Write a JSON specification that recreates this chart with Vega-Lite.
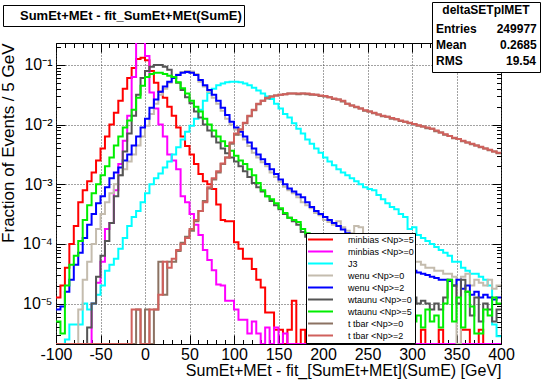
{
"$schema": "https://vega.github.io/schema/vega-lite/v6.json",
"width": 445, "height": 301,
"autosize": {"type": "none"},
"padding": {"left": 56, "top": 43, "right": 43, "bottom": 36},
"background": "#ffffff",
"config": {
  "view": {"stroke": "#000000", "strokeWidth": 1},
  "axis": {"labelFont": "Liberation Sans", "titleFont": "Liberation Sans", "labelColor": "#000000", "titleColor": "#000000", "tickColor": "#000000", "domain": false, "tickWidth": 1},
  "legend": {"labelFont": "Liberation Sans", "titleFont": "Liberation Sans", "labelColor": "#000000", "titleColor": "#000000", "labelLimit": 500}
},
"datasets": {
"red": [{"x":-100,"y":1.26e-5},{"x":-95,"y":2.0e-5},{"x":-90,"y":3.98e-5},{"x":-85,"y":1e-4},{"x":-80,"y":2.0e-4},{"x":-75,"y":5.01e-4},{"x":-70,"y":7.94e-4},{"x":-65,"y":1.12e-3},{"x":-60,"y":1.58e-3},{"x":-55,"y":2.51e-3},{"x":-50,"y":3.98e-3},{"x":-45,"y":6.31e-3},{"x":-40,"y":1e-2},{"x":-35,"y":1.58e-2},{"x":-30,"y":2.51e-2},{"x":-25,"y":3.98e-2},{"x":-20,"y":6.03e-2},{"x":-15,"y":8.91e-2},{"x":-10,"y":0.126},{"x":-5,"y":0.132},{"x":0,"y":0.12},{"x":5,"y":7.94e-2},{"x":10,"y":5.01e-2},{"x":15,"y":3.55e-2},{"x":20,"y":2.82e-2},{"x":25,"y":2.0e-2},{"x":30,"y":1.41e-2},{"x":35,"y":8.91e-3},{"x":40,"y":6.31e-3},{"x":45,"y":4.37e-3},{"x":50,"y":3.16e-3},{"x":55,"y":2.19e-3},{"x":60,"y":1.48e-3},{"x":65,"y":1.12e-3},{"x":70,"y":1e-3},{"x":75,"y":8.32e-4},{"x":80,"y":4.57e-4},{"x":85,"y":2.51e-4},{"x":90,"y":2.4e-4},{"x":95,"y":2.4e-4},{"x":100,"y":1.07e-4},{"x":105,"y":8.32e-5},{"x":110,"y":5.62e-5},{"x":115,"y":5.62e-5},{"x":120,"y":3.8e-5},{"x":125,"y":2.51e-5},{"x":130,"y":1.86e-5},{"x":135,"y":7.08e-6},{"x":140,"y":7.08e-6},{"x":145,"y":3.63e-6},{"x":150,"y":3.63e-6},{"x":155,"y":2.1e-6},{"x":160,"y":3.63e-6},{"x":165,"y":1.12e-5},{"x":170,"y":2.1e-6},{"x":175,"y":3.63e-6},{"x":180,"y":2.1e-6},{"x":185,"y":3.63e-6},{"x":190,"y":2.1e-6},{"x":200,"y":3.63e-6},{"x":205,"y":7.24e-6},{"x":210,"y":2.1e-6},{"x":215,"y":3.63e-6},{"x":220,"y":2.1e-6},{"x":230,"y":3.63e-6},{"x":235,"y":2.1e-6},{"x":245,"y":3.63e-6},{"x":250,"y":2.1e-6},{"x":255,"y":3.63e-6},{"x":260,"y":2.1e-6},{"x":270,"y":3.63e-6},{"x":275,"y":2.1e-6},{"x":280,"y":7.24e-6},{"x":285,"y":2.1e-6},{"x":295,"y":3.63e-6},{"x":300,"y":2.1e-6},{"x":310,"y":3.63e-6},{"x":315,"y":2.1e-6},{"x":330,"y":3.63e-6},{"x":335,"y":2.1e-6},{"x":355,"y":3.63e-6},{"x":365,"y":2.1e-6},{"x":375,"y":3.63e-6},{"x":380,"y":2.1e-6},{"x":400,"y":2.1e-6}],
"magenta": [{"x":-100,"y":2.1e-6},{"x":-60,"y":1e-5},{"x":-55,"y":2.24e-5},{"x":-50,"y":5.01e-5},{"x":-45,"y":1.78e-4},{"x":-40,"y":2.24e-4},{"x":-35,"y":7.94e-4},{"x":-30,"y":2.19e-3},{"x":-25,"y":5.37e-3},{"x":-20,"y":1.41e-2},{"x":-15,"y":6.31e-2},{"x":-10,"y":0.24},{"x":-5,"y":0.24},{"x":0,"y":0.141},{"x":5,"y":3.47e-2},{"x":10,"y":1.86e-2},{"x":15,"y":1e-2},{"x":20,"y":6.31e-3},{"x":25,"y":3.16e-3},{"x":30,"y":2.51e-3},{"x":35,"y":1.78e-3},{"x":40,"y":6.31e-4},{"x":45,"y":5.01e-4},{"x":50,"y":3.16e-4},{"x":55,"y":2.09e-4},{"x":60,"y":1.41e-4},{"x":65,"y":7.94e-5},{"x":70,"y":5.37e-5},{"x":75,"y":3.63e-5},{"x":80,"y":2.09e-5},{"x":85,"y":2.0e-5},{"x":90,"y":1.12e-5},{"x":95,"y":1.12e-5},{"x":100,"y":7.94e-6},{"x":105,"y":5.37e-6},{"x":110,"y":5.37e-6},{"x":115,"y":3.16e-6},{"x":120,"y":5.01e-6},{"x":125,"y":3.16e-6},{"x":130,"y":2.1e-6},{"x":135,"y":3.98e-6},{"x":140,"y":2.1e-6},{"x":145,"y":3.98e-6},{"x":150,"y":2.1e-6},{"x":155,"y":3.16e-6},{"x":160,"y":2.1e-6},{"x":400,"y":2.1e-6}],
"cyan": [{"x":-100,"y":2.1e-6},{"x":-90,"y":2.51e-6},{"x":-85,"y":4.47e-6},{"x":-70,"y":1e-5},{"x":-65,"y":7.94e-6},{"x":-60,"y":1e-5},{"x":-55,"y":1.41e-5},{"x":-50,"y":2.0e-5},{"x":-45,"y":3.55e-5},{"x":-40,"y":4.47e-5},{"x":-35,"y":5.62e-5},{"x":-30,"y":8.32e-5},{"x":-25,"y":1.26e-4},{"x":-20,"y":2.0e-4},{"x":-15,"y":2.82e-4},{"x":-10,"y":3.55e-4},{"x":-5,"y":5.01e-4},{"x":0,"y":7.08e-4},{"x":5,"y":1e-3},{"x":10,"y":1.26e-3},{"x":15,"y":1.51e-3},{"x":20,"y":1.91e-3},{"x":25,"y":2.4e-3},{"x":30,"y":3.16e-3},{"x":35,"y":4.17e-3},{"x":40,"y":5.62e-3},{"x":45,"y":7.59e-3},{"x":50,"y":9.55e-3},{"x":55,"y":1.26e-2},{"x":60,"y":1.78e-2},{"x":65,"y":2.51e-2},{"x":70,"y":3.39e-2},{"x":75,"y":3.98e-2},{"x":80,"y":4.57e-2},{"x":85,"y":4.9e-2},{"x":90,"y":5.13e-2},{"x":95,"y":5.25e-2},{"x":100,"y":5.25e-2},{"x":105,"y":5.13e-2},{"x":110,"y":4.9e-2},{"x":115,"y":4.57e-2},{"x":120,"y":4.17e-2},{"x":125,"y":3.72e-2},{"x":130,"y":3.31e-2},{"x":135,"y":2.95e-2},{"x":140,"y":2.69e-2},{"x":145,"y":2.24e-2},{"x":150,"y":1.86e-2},{"x":155,"y":1.51e-2},{"x":160,"y":1.32e-2},{"x":165,"y":1.05e-2},{"x":170,"y":8.51e-3},{"x":175,"y":7.08e-3},{"x":180,"y":5.62e-3},{"x":185,"y":4.79e-3},{"x":190,"y":3.98e-3},{"x":195,"y":3.39e-3},{"x":200,"y":2.82e-3},{"x":205,"y":2.4e-3},{"x":210,"y":2.09e-3},{"x":215,"y":1.78e-3},{"x":220,"y":1.58e-3},{"x":225,"y":1.41e-3},{"x":230,"y":1.26e-3},{"x":235,"y":1.12e-3},{"x":240,"y":1e-3},{"x":245,"y":8.91e-4},{"x":250,"y":8.32e-4},{"x":255,"y":7.94e-4},{"x":260,"y":6.61e-4},{"x":265,"y":5.62e-4},{"x":270,"y":4.79e-4},{"x":275,"y":4.17e-4},{"x":280,"y":3.8e-4},{"x":285,"y":3.16e-4},{"x":290,"y":2.82e-4},{"x":295,"y":1.78e-4},{"x":300,"y":1.91e-4},{"x":305,"y":1.41e-4},{"x":310,"y":1.26e-4},{"x":315,"y":1.12e-4},{"x":320,"y":1e-4},{"x":325,"y":8.91e-5},{"x":330,"y":7.94e-5},{"x":335,"y":7.08e-5},{"x":340,"y":6.31e-5},{"x":345,"y":5.01e-5},{"x":350,"y":5.01e-5},{"x":355,"y":3.98e-5},{"x":360,"y":3.55e-5},{"x":365,"y":3.16e-5},{"x":370,"y":3.16e-5},{"x":375,"y":2.82e-5},{"x":380,"y":2.51e-5},{"x":385,"y":2.0e-5},{"x":390,"y":4.47e-6},{"x":395,"y":2.82e-6},{"x":400,"y":2.82e-6}],
"tan": [{"x":-100,"y":2.1e-6},{"x":-75,"y":7.94e-6},{"x":-70,"y":2.51e-5},{"x":-65,"y":5.01e-5},{"x":-60,"y":1e-4},{"x":-55,"y":1.78e-4},{"x":-50,"y":3.16e-4},{"x":-45,"y":5.01e-4},{"x":-40,"y":7.08e-4},{"x":-35,"y":1e-3},{"x":-30,"y":1.41e-3},{"x":-25,"y":1.78e-3},{"x":-20,"y":2.4e-3},{"x":-15,"y":3.16e-3},{"x":-10,"y":4.47e-3},{"x":-5,"y":6.31e-3},{"x":0,"y":9.55e-3},{"x":5,"y":1.51e-2},{"x":10,"y":2.24e-2},{"x":15,"y":3.16e-2},{"x":20,"y":3.98e-2},{"x":25,"y":5.01e-2},{"x":30,"y":6.03e-2},{"x":35,"y":6.92e-2},{"x":40,"y":7.59e-2},{"x":45,"y":7.94e-2},{"x":50,"y":7.76e-2},{"x":55,"y":7.08e-2},{"x":60,"y":5.25e-2},{"x":65,"y":4.37e-2},{"x":70,"y":3.55e-2},{"x":75,"y":2.82e-2},{"x":80,"y":2.24e-2},{"x":85,"y":1.7e-2},{"x":90,"y":1.26e-2},{"x":95,"y":1e-2},{"x":100,"y":8.32e-3},{"x":105,"y":6.76e-3},{"x":110,"y":5.62e-3},{"x":115,"y":4.37e-3},{"x":120,"y":3.39e-3},{"x":125,"y":2.82e-3},{"x":130,"y":2.34e-3},{"x":135,"y":2.0e-3},{"x":140,"y":1.58e-3},{"x":145,"y":1.32e-3},{"x":150,"y":1.1e-3},{"x":155,"y":9.12e-4},{"x":160,"y":7.94e-4},{"x":165,"y":7.08e-4},{"x":170,"y":6.03e-4},{"x":175,"y":5.01e-4},{"x":180,"y":4.47e-4},{"x":185,"y":3.98e-4},{"x":190,"y":3.31e-4},{"x":195,"y":3.02e-4},{"x":200,"y":2.51e-4},{"x":205,"y":2.34e-4},{"x":210,"y":2.09e-4},{"x":215,"y":2.4e-4},{"x":220,"y":1.91e-4},{"x":225,"y":1.66e-4},{"x":230,"y":1.51e-4},{"x":235,"y":2.0e-4},{"x":240,"y":1.91e-4},{"x":245,"y":1.41e-4},{"x":250,"y":1.26e-4},{"x":255,"y":1.12e-4},{"x":260,"y":1e-4},{"x":265,"y":8.91e-5},{"x":270,"y":7.94e-5},{"x":275,"y":7.94e-5},{"x":280,"y":7.08e-5},{"x":285,"y":6.31e-5},{"x":290,"y":6.31e-5},{"x":295,"y":5.62e-5},{"x":300,"y":5.01e-5},{"x":305,"y":5.01e-5},{"x":310,"y":4.47e-5},{"x":315,"y":3.98e-5},{"x":320,"y":3.98e-5},{"x":325,"y":3.55e-5},{"x":330,"y":3.55e-5},{"x":335,"y":3.16e-5},{"x":340,"y":3.16e-5},{"x":345,"y":2.82e-5},{"x":350,"y":2.1e-6},{"x":355,"y":2.82e-5},{"x":360,"y":3.16e-5},{"x":365,"y":2.0e-5},{"x":370,"y":2.51e-5},{"x":375,"y":2.24e-5},{"x":380,"y":2.0e-5},{"x":385,"y":2.51e-5},{"x":390,"y":1.78e-5},{"x":395,"y":2.0e-5},{"x":400,"y":2.0e-5}],
"blue": [{"x":-100,"y":7.94e-6},{"x":-95,"y":8.91e-6},{"x":-90,"y":1.58e-5},{"x":-85,"y":2.51e-5},{"x":-80,"y":4.47e-5},{"x":-75,"y":7.08e-5},{"x":-70,"y":1.26e-4},{"x":-65,"y":2.09e-4},{"x":-60,"y":3.16e-4},{"x":-55,"y":4.79e-4},{"x":-50,"y":6.31e-4},{"x":-45,"y":8.91e-4},{"x":-40,"y":1.26e-3},{"x":-35,"y":1.58e-3},{"x":-30,"y":1.91e-3},{"x":-25,"y":2.51e-3},{"x":-20,"y":3.16e-3},{"x":-15,"y":4.47e-3},{"x":-10,"y":6.31e-3},{"x":-5,"y":8.91e-3},{"x":0,"y":1.26e-2},{"x":5,"y":1.91e-2},{"x":10,"y":2.63e-2},{"x":15,"y":3.55e-2},{"x":20,"y":4.37e-2},{"x":25,"y":5.25e-2},{"x":30,"y":6.03e-2},{"x":35,"y":6.76e-2},{"x":40,"y":7.41e-2},{"x":45,"y":7.59e-2},{"x":50,"y":7.41e-2},{"x":55,"y":6.76e-2},{"x":60,"y":5.62e-2},{"x":65,"y":4.57e-2},{"x":70,"y":3.8e-2},{"x":75,"y":3.16e-2},{"x":80,"y":2.51e-2},{"x":85,"y":1.91e-2},{"x":90,"y":1.45e-2},{"x":95,"y":1.12e-2},{"x":100,"y":8.91e-3},{"x":105,"y":7.59e-3},{"x":110,"y":6.31e-3},{"x":115,"y":5.01e-3},{"x":120,"y":3.98e-3},{"x":125,"y":3.16e-3},{"x":130,"y":2.63e-3},{"x":135,"y":2.19e-3},{"x":140,"y":1.78e-3},{"x":145,"y":1.48e-3},{"x":150,"y":1.2e-3},{"x":155,"y":1e-3},{"x":160,"y":8.51e-4},{"x":165,"y":7.59e-4},{"x":170,"y":6.76e-4},{"x":175,"y":6.03e-4},{"x":180,"y":5.01e-4},{"x":185,"y":4.17e-4},{"x":190,"y":3.55e-4},{"x":195,"y":3.16e-4},{"x":200,"y":2.82e-4},{"x":205,"y":2.51e-4},{"x":210,"y":2.24e-4},{"x":215,"y":2.0e-4},{"x":220,"y":1.74e-4},{"x":225,"y":1.51e-4},{"x":230,"y":1.41e-4},{"x":235,"y":1.26e-4},{"x":240,"y":1.12e-4},{"x":245,"y":1e-4},{"x":250,"y":8.91e-5},{"x":255,"y":7.94e-5},{"x":260,"y":7.08e-5},{"x":265,"y":6.31e-5},{"x":270,"y":5.62e-5},{"x":275,"y":5.25e-5},{"x":280,"y":5.01e-5},{"x":285,"y":4.47e-5},{"x":290,"y":3.98e-5},{"x":295,"y":3.8e-5},{"x":300,"y":3.55e-5},{"x":305,"y":3.31e-5},{"x":310,"y":3.16e-5},{"x":315,"y":3.02e-5},{"x":320,"y":2.82e-5},{"x":325,"y":2.69e-5},{"x":330,"y":2.51e-5},{"x":335,"y":2.51e-5},{"x":340,"y":2.4e-5},{"x":345,"y":2.0e-5},{"x":350,"y":2.51e-5},{"x":355,"y":1.78e-5},{"x":360,"y":2.0e-5},{"x":365,"y":1.41e-5},{"x":370,"y":1.58e-5},{"x":375,"y":1.26e-5},{"x":380,"y":1.41e-5},{"x":385,"y":1.26e-5},{"x":390,"y":1.17e-5},{"x":395,"y":1.26e-5},{"x":400,"y":1.26e-5}],
"dgray": [{"x":-100,"y":2.1e-6},{"x":-65,"y":3.98e-6},{"x":-60,"y":1e-5},{"x":-55,"y":2.82e-5},{"x":-50,"y":6.31e-5},{"x":-45,"y":1.12e-4},{"x":-40,"y":2.24e-4},{"x":-35,"y":6.31e-4},{"x":-30,"y":1.41e-3},{"x":-25,"y":3.55e-3},{"x":-20,"y":7.08e-3},{"x":-15,"y":1.41e-2},{"x":-10,"y":3.16e-2},{"x":-5,"y":6.03e-2},{"x":0,"y":7.94e-2},{"x":5,"y":9.33e-2},{"x":10,"y":0.1},{"x":15,"y":0.1},{"x":20,"y":9.33e-2},{"x":25,"y":8.32e-2},{"x":30,"y":6.31e-2},{"x":35,"y":5.01e-2},{"x":40,"y":3.8e-2},{"x":45,"y":2.88e-2},{"x":50,"y":2.29e-2},{"x":55,"y":1.66e-2},{"x":60,"y":1.32e-2},{"x":65,"y":1e-2},{"x":70,"y":7.94e-3},{"x":75,"y":6.31e-3},{"x":80,"y":5.01e-3},{"x":85,"y":3.98e-3},{"x":90,"y":3.31e-3},{"x":95,"y":2.82e-3},{"x":100,"y":2.4e-3},{"x":105,"y":2.0e-3},{"x":110,"y":1.66e-3},{"x":115,"y":1.32e-3},{"x":120,"y":1.05e-3},{"x":125,"y":8.91e-4},{"x":130,"y":7.59e-4},{"x":135,"y":6.31e-4},{"x":140,"y":5.25e-4},{"x":145,"y":4.47e-4},{"x":150,"y":3.8e-4},{"x":155,"y":3.16e-4},{"x":160,"y":2.75e-4},{"x":165,"y":2.4e-4},{"x":170,"y":2.09e-4},{"x":175,"y":1.58e-4},{"x":180,"y":1.32e-4},{"x":185,"y":1.12e-4},{"x":190,"y":8.91e-5},{"x":195,"y":7.94e-5},{"x":200,"y":7.08e-5},{"x":205,"y":6.31e-5},{"x":210,"y":5.62e-5},{"x":215,"y":5.01e-5},{"x":220,"y":4.47e-5},{"x":225,"y":3.98e-5},{"x":230,"y":3.55e-5},{"x":235,"y":3.16e-5},{"x":240,"y":3.16e-5},{"x":245,"y":2.82e-5},{"x":250,"y":2.51e-5},{"x":255,"y":2.51e-5},{"x":260,"y":2.24e-5},{"x":265,"y":2.0e-5},{"x":270,"y":2.0e-5},{"x":275,"y":1.78e-5},{"x":280,"y":1.58e-5},{"x":285,"y":1.58e-5},{"x":290,"y":1.41e-5},{"x":295,"y":1.26e-5},{"x":300,"y":1.26e-5},{"x":305,"y":1e-5},{"x":310,"y":1.12e-5},{"x":315,"y":1e-5},{"x":320,"y":7.94e-6},{"x":325,"y":1e-5},{"x":330,"y":7.94e-6},{"x":335,"y":1.26e-5},{"x":340,"y":2.51e-5},{"x":345,"y":2.0e-5},{"x":350,"y":1e-5},{"x":355,"y":2.51e-5},{"x":360,"y":1.58e-5},{"x":365,"y":6.31e-6},{"x":370,"y":1.26e-5},{"x":375,"y":5.01e-6},{"x":380,"y":1e-5},{"x":385,"y":7.94e-6},{"x":390,"y":5.01e-6},{"x":395,"y":7.94e-6},{"x":400,"y":7.94e-6}],
"green": [{"x":-100,"y":5.01e-6},{"x":-95,"y":3.16e-6},{"x":-90,"y":2.0e-5},{"x":-85,"y":4.47e-5},{"x":-80,"y":6.31e-5},{"x":-75,"y":1.12e-4},{"x":-70,"y":2.51e-4},{"x":-65,"y":4.47e-4},{"x":-60,"y":7.08e-4},{"x":-55,"y":1e-3},{"x":-50,"y":1.41e-3},{"x":-45,"y":2.0e-3},{"x":-40,"y":2.82e-3},{"x":-35,"y":4.47e-3},{"x":-30,"y":6.31e-3},{"x":-25,"y":8.91e-3},{"x":-20,"y":1.17e-2},{"x":-15,"y":1.78e-2},{"x":-10,"y":2.82e-2},{"x":-5,"y":4.47e-2},{"x":0,"y":6.31e-2},{"x":5,"y":7.08e-2},{"x":10,"y":7.41e-2},{"x":15,"y":7.41e-2},{"x":20,"y":7.08e-2},{"x":25,"y":6.61e-2},{"x":30,"y":6.31e-2},{"x":35,"y":5.13e-2},{"x":40,"y":4.07e-2},{"x":45,"y":3.31e-2},{"x":50,"y":2.51e-2},{"x":55,"y":2.0e-2},{"x":60,"y":1.66e-2},{"x":65,"y":1.26e-2},{"x":70,"y":1e-2},{"x":75,"y":7.94e-3},{"x":80,"y":6.31e-3},{"x":85,"y":5.25e-3},{"x":90,"y":4.37e-3},{"x":95,"y":3.63e-3},{"x":100,"y":3.02e-3},{"x":105,"y":2.51e-3},{"x":110,"y":2.19e-3},{"x":115,"y":1.78e-3},{"x":120,"y":1.41e-3},{"x":125,"y":1.05e-3},{"x":130,"y":7.94e-4},{"x":135,"y":6.31e-4},{"x":140,"y":5.62e-4},{"x":145,"y":4.79e-4},{"x":150,"y":3.98e-4},{"x":155,"y":3.31e-4},{"x":160,"y":2.75e-4},{"x":165,"y":2.51e-4},{"x":170,"y":2.34e-4},{"x":175,"y":1.78e-4},{"x":180,"y":1.51e-4},{"x":185,"y":1.26e-4},{"x":190,"y":1.05e-4},{"x":195,"y":8.91e-5},{"x":200,"y":7.94e-5},{"x":205,"y":6.31e-5},{"x":210,"y":5.01e-5},{"x":215,"y":4.47e-5},{"x":220,"y":3.55e-5},{"x":225,"y":3.16e-5},{"x":230,"y":2.51e-5},{"x":235,"y":2.0e-5},{"x":240,"y":2.0e-5},{"x":245,"y":1.58e-5},{"x":250,"y":1.26e-5},{"x":255,"y":1.12e-5},{"x":260,"y":1e-5},{"x":265,"y":7.94e-6},{"x":270,"y":1e-5},{"x":275,"y":6.31e-6},{"x":280,"y":7.94e-6},{"x":285,"y":5.01e-6},{"x":290,"y":6.31e-6},{"x":295,"y":1e-5},{"x":300,"y":5.01e-6},{"x":305,"y":6.31e-6},{"x":310,"y":3.98e-6},{"x":315,"y":7.94e-6},{"x":320,"y":5.01e-6},{"x":325,"y":6.31e-6},{"x":330,"y":3.98e-6},{"x":335,"y":1e-5},{"x":340,"y":2.51e-5},{"x":345,"y":5.01e-6},{"x":350,"y":1.26e-5},{"x":355,"y":3.98e-6},{"x":360,"y":1.58e-5},{"x":365,"y":8.91e-6},{"x":370,"y":3.16e-6},{"x":375,"y":3.16e-6},{"x":380,"y":7.94e-6},{"x":385,"y":6.31e-6},{"x":390,"y":1.26e-5},{"x":395,"y":1e-5},{"x":400,"y":1e-5}],
"brown": [{"x":-100,"y":2.1e-6},{"x":-10,"y":7.94e-6},{"x":-5,"y":2.1e-6},{"x":0,"y":7.94e-6},{"x":5,"y":2.1e-6},{"x":10,"y":7.94e-6},{"x":15,"y":5.01e-5},{"x":20,"y":1.41e-5},{"x":25,"y":5.01e-5},{"x":30,"y":5.01e-5},{"x":35,"y":7.59e-5},{"x":40,"y":1.05e-4},{"x":45,"y":1.32e-4},{"x":50,"y":1.66e-4},{"x":55,"y":2.4e-4},{"x":60,"y":3.55e-4},{"x":65,"y":5.25e-4},{"x":70,"y":8.51e-4},{"x":75,"y":1.2e-3},{"x":80,"y":1.58e-3},{"x":85,"y":2.19e-3},{"x":90,"y":2.82e-3},{"x":95,"y":4.79e-3},{"x":100,"y":6.76e-3},{"x":105,"y":8.32e-3},{"x":110,"y":1.05e-2},{"x":115,"y":1.38e-2},{"x":120,"y":1.74e-2},{"x":125,"y":2.19e-2},{"x":130,"y":2.51e-2},{"x":135,"y":2.75e-2},{"x":140,"y":2.95e-2},{"x":145,"y":3.09e-2},{"x":150,"y":3.16e-2},{"x":155,"y":3.24e-2},{"x":160,"y":3.31e-2},{"x":165,"y":3.31e-2},{"x":170,"y":3.24e-2},{"x":175,"y":3.31e-2},{"x":180,"y":3.24e-2},{"x":185,"y":3.16e-2},{"x":190,"y":3.16e-2},{"x":195,"y":3.02e-2},{"x":200,"y":2.95e-2},{"x":205,"y":2.88e-2},{"x":210,"y":2.69e-2},{"x":215,"y":2.63e-2},{"x":220,"y":2.45e-2},{"x":225,"y":2.24e-2},{"x":230,"y":2.09e-2},{"x":235,"y":1.95e-2},{"x":240,"y":1.86e-2},{"x":245,"y":1.7e-2},{"x":250,"y":1.66e-2},{"x":255,"y":1.55e-2},{"x":260,"y":1.48e-2},{"x":265,"y":1.38e-2},{"x":270,"y":1.35e-2},{"x":275,"y":1.26e-2},{"x":280,"y":1.23e-2},{"x":285,"y":1.15e-2},{"x":290,"y":1.12e-2},{"x":295,"y":1.05e-2},{"x":300,"y":1.02e-2},{"x":305,"y":9.55e-3},{"x":310,"y":9.33e-3},{"x":315,"y":8.71e-3},{"x":320,"y":8.51e-3},{"x":325,"y":7.76e-3},{"x":330,"y":7.41e-3},{"x":335,"y":6.76e-3},{"x":340,"y":6.46e-3},{"x":345,"y":5.89e-3},{"x":350,"y":5.75e-3},{"x":355,"y":5.25e-3},{"x":360,"y":5.01e-3},{"x":365,"y":4.68e-3},{"x":370,"y":4.47e-3},{"x":375,"y":4.17e-3},{"x":380,"y":3.98e-3},{"x":385,"y":3.72e-3},{"x":390,"y":3.55e-3},{"x":395,"y":3.31e-3},{"x":400,"y":3.31e-3}],
"salmon": [{"x":-100,"y":2.1e-6},{"x":-15,"y":7.94e-6},{"x":-10,"y":7.94e-6},{"x":-5,"y":2.1e-6},{"x":5,"y":7.94e-6},{"x":10,"y":7.94e-6},{"x":15,"y":1.41e-5},{"x":20,"y":5.01e-5},{"x":25,"y":3.98e-5},{"x":30,"y":5.62e-5},{"x":35,"y":7.94e-5},{"x":40,"y":1e-4},{"x":45,"y":1.26e-4},{"x":50,"y":1.78e-4},{"x":55,"y":2.51e-4},{"x":60,"y":3.55e-4},{"x":65,"y":5.01e-4},{"x":70,"y":8.91e-4},{"x":75,"y":1.26e-3},{"x":80,"y":1.66e-3},{"x":85,"y":2.24e-3},{"x":90,"y":2.82e-3},{"x":95,"y":5.01e-3},{"x":100,"y":7.08e-3},{"x":105,"y":8.32e-3},{"x":110,"y":1.07e-2},{"x":115,"y":1.41e-2},{"x":120,"y":1.78e-2},{"x":125,"y":2.24e-2},{"x":130,"y":2.51e-2},{"x":135,"y":2.82e-2},{"x":140,"y":2.95e-2},{"x":145,"y":3.09e-2},{"x":150,"y":3.16e-2},{"x":155,"y":3.24e-2},{"x":160,"y":3.31e-2},{"x":165,"y":3.31e-2},{"x":170,"y":3.31e-2},{"x":175,"y":3.31e-2},{"x":180,"y":3.31e-2},{"x":185,"y":3.24e-2},{"x":190,"y":3.16e-2},{"x":195,"y":3.09e-2},{"x":200,"y":3.02e-2},{"x":205,"y":2.88e-2},{"x":210,"y":2.75e-2},{"x":215,"y":2.63e-2},{"x":220,"y":2.51e-2},{"x":225,"y":2.24e-2},{"x":230,"y":2.09e-2},{"x":235,"y":2.0e-2},{"x":240,"y":1.86e-2},{"x":245,"y":1.74e-2},{"x":250,"y":1.66e-2},{"x":255,"y":1.58e-2},{"x":260,"y":1.48e-2},{"x":265,"y":1.41e-2},{"x":270,"y":1.35e-2},{"x":275,"y":1.29e-2},{"x":280,"y":1.23e-2},{"x":285,"y":1.17e-2},{"x":290,"y":1.12e-2},{"x":295,"y":1.07e-2},{"x":300,"y":1.02e-2},{"x":305,"y":9.77e-3},{"x":310,"y":9.33e-3},{"x":315,"y":8.91e-3},{"x":320,"y":8.51e-3},{"x":325,"y":7.94e-3},{"x":330,"y":7.41e-3},{"x":335,"y":6.92e-3},{"x":340,"y":6.46e-3},{"x":345,"y":6.03e-3},{"x":350,"y":5.75e-3},{"x":355,"y":5.37e-3},{"x":360,"y":5.01e-3},{"x":365,"y":4.79e-3},{"x":370,"y":4.47e-3},{"x":375,"y":4.27e-3},{"x":380,"y":3.98e-3},{"x":385,"y":3.8e-3},{"x":390,"y":3.55e-3},{"x":395,"y":3.39e-3},{"x":400,"y":3.39e-3}],
"stats": [{"t":"Entries\u00a0\u00a0\u00a0\u00a0\u00a0\u00a0249977"},{"t":"Mean\u00a0\u00a0\u00a0\u00a0\u00a0\u00a0\u00a0\u00a0\u00a0\u00a00.2685"},{"t":"RMS\u00a0\u00a0\u00a0\u00a0\u00a0\u00a0\u00a0\u00a0\u00a0\u00a0\u00a0\u00a0\u00a019.54"}],
"ttl": [{"t":"SumEt+MEt - fit_SumEt+MEt(SumE)"}]
},
"layer": [
{"data": {"name": "red"}, "mark": {"type": "line", "interpolate": "step-after", "strokeWidth": 2, "clip": true},
 "encoding": {
  "x": {"field": "x", "type": "quantitative", "scale": {"domain": [-100, 400], "nice": false, "zero": false},
    "axis": {"orient": "bottom", "values": [-100,-50,0,50,100,150,200,250,300,350,400],
      "labelExpr": "'' + datum.value", "tickSize": -9,
      "labelPadding": 11, "labelFontSize": 16, "labelFlush": false, "labelOverlap": false,
      "grid": true, "gridColor": "#444444", "gridDash": [1, 2],
      "title": "SumEt+MEt - fit_[SumEt+MEt](SumE) [GeV]", "titleAnchor": "end", "titleFontSize": 16, "titleFontWeight": "normal", "titlePadding": 0}},
  "y": {"field": "y", "type": "quantitative", "scale": {"type": "log", "domain": [2.1e-6, 0.2335], "nice": false},
    "axis": {"orient": "left", "values": [1e-5, 1e-4, 0.001, 0.01, 0.1],
      "labelExpr": "'10' + ['⁰','⁻¹','⁻²','⁻³','⁻⁴','⁻⁵','⁻⁶'][-round(log(datum.value)/LN10)]",
      "tickSize": -9,
      "labelPadding": 13, "labelFontSize": 16, "labelFlush": false, "labelOverlap": false,
      "grid": true, "gridColor": "#444444", "gridDash": [1, 2],
      "title": "Fraction of Events / 5 GeV", "titleAnchor": "end", "titleFontSize": 17, "titleFontWeight": "normal", "titlePadding": 5}},
  "color": {"datum": "minbias <Np>=5", "type": "nominal",
    "scale": {"domain": ["minbias <Np>=5", "minbias <Np>=0", "J3", "wenu <Np>=0", "wenu <Np>=2", "wtaunu <Np>=0", "wtaunu <Np>=5", "t tbar <Np>=0", "t tbar <Np>=2"],
              "range": ["#ff0000", "#ff00ff", "#00ffff", "#c4bcae", "#0000ff", "#555555", "#00ee00", "#8c7262", "#d0605c"]},
    "legend": {"orient": "none", "legendX": 250, "legendY": 190, "title": null,
      "fillColor": "#ffffff", "strokeColor": "#000000", "padding": 1,
      "symbolType": "stroke", "symbolSize": 625, "symbolStrokeWidth": 2,
      "labelFontSize": 9, "labelOffset": 14, "clipHeight": 11.2, "rowPadding": 0,
      "labelExpr": "datum.label + '\u00a0\u00a0\u00a0\u00a0\u00a0\u00a0\u00a0\u00a0\u00a0\u00a0\u00a0\u00a0\u00a0'"}}
 }},
{"data": {"name": "magenta"}, "mark": {"type": "line", "interpolate": "step-after", "strokeWidth": 2, "clip": true},
 "encoding": {"x": {"field": "x", "type": "quantitative", "axis": null}, "y": {"field": "y", "type": "quantitative", "axis": null}, "color": {"datum": "minbias <Np>=0", "type": "nominal"}}},
{"data": {"name": "cyan"}, "mark": {"type": "line", "interpolate": "step-after", "strokeWidth": 2, "clip": true},
 "encoding": {"x": {"field": "x", "type": "quantitative", "axis": null}, "y": {"field": "y", "type": "quantitative", "axis": null}, "color": {"datum": "J3", "type": "nominal"}}},
{"data": {"name": "tan"}, "mark": {"type": "line", "interpolate": "step-after", "strokeWidth": 2, "clip": true},
 "encoding": {"x": {"field": "x", "type": "quantitative", "axis": null}, "y": {"field": "y", "type": "quantitative", "axis": null}, "color": {"datum": "wenu <Np>=0", "type": "nominal"}}},
{"data": {"name": "blue"}, "mark": {"type": "line", "interpolate": "step-after", "strokeWidth": 2, "clip": true},
 "encoding": {"x": {"field": "x", "type": "quantitative", "axis": null}, "y": {"field": "y", "type": "quantitative", "axis": null}, "color": {"datum": "wenu <Np>=2", "type": "nominal"}}},
{"data": {"name": "dgray"}, "mark": {"type": "line", "interpolate": "step-after", "strokeWidth": 2, "clip": true},
 "encoding": {"x": {"field": "x", "type": "quantitative", "axis": null}, "y": {"field": "y", "type": "quantitative", "axis": null}, "color": {"datum": "wtaunu <Np>=0", "type": "nominal"}}},
{"data": {"name": "green"}, "mark": {"type": "line", "interpolate": "step-after", "strokeWidth": 2, "clip": true},
 "encoding": {"x": {"field": "x", "type": "quantitative", "axis": null}, "y": {"field": "y", "type": "quantitative", "axis": null}, "color": {"datum": "wtaunu <Np>=5", "type": "nominal"}}},
{"data": {"name": "brown"}, "mark": {"type": "line", "interpolate": "step-after", "strokeWidth": 2, "clip": true},
 "encoding": {"x": {"field": "x", "type": "quantitative", "axis": null}, "y": {"field": "y", "type": "quantitative", "axis": null}, "color": {"datum": "t tbar <Np>=0", "type": "nominal"}}},
{"data": {"name": "salmon"}, "mark": {"type": "line", "interpolate": "step-after", "strokeWidth": 2, "clip": true},
 "encoding": {"x": {"field": "x", "type": "quantitative", "axis": null}, "y": {"field": "y", "type": "quantitative", "axis": null}, "color": {"datum": "t tbar <Np>=2", "type": "nominal"}}},
{"data": {"name": "red"}, "mark": {"type": "line", "opacity": 0},
 "encoding": {
  "x": {"field": "x", "type": "quantitative",
    "axis": {"orient": "top", "values": [-100,-90,-80,-70,-60,-50,-40,-30,-20,-10,0,10,20,30,40,50,60,70,80,90,100,110,120,130,140,150,160,170,180,190,200,210,220,230,240,250,260,270,280,290,300,310,320,330,340,350,360,370,380,390,400],
      "labels": false, "grid": false, "title": null, "tickSize": -4.5}},
  "y": {"field": "y", "type": "quantitative",
    "axis": {"orient": "right", "values": [3e-6,4e-6,5e-6,6e-6,7e-6,8e-6,9e-6,1e-5,2e-5,3e-5,4e-5,5e-5,6e-5,7e-5,8e-5,9e-5,1e-4,2e-4,3e-4,4e-4,5e-4,6e-4,7e-4,8e-4,9e-4,0.001,0.002,0.003,0.004,0.005,0.006,0.007,0.008,0.009,0.01,0.02,0.03,0.04,0.05,0.06,0.07,0.08,0.09,0.1,0.2],
      "labels": false, "grid": false, "title": null, "tickSize": -4.5}}
 }},
{"data": {"name": "red"}, "mark": {"type": "line", "opacity": 0},
 "encoding": {
  "x": {"field": "x", "type": "quantitative",
    "axis": {"orient": "bottom", "values": [-100,-90,-80,-70,-60,-50,-40,-30,-20,-10,0,10,20,30,40,50,60,70,80,90,100,110,120,130,140,150,160,170,180,190,200,210,220,230,240,250,260,270,280,290,300,310,320,330,340,350,360,370,380,390,400],
      "labels": false, "grid": false, "title": null, "tickSize": -4.5}},
  "y": {"field": "y", "type": "quantitative",
    "axis": {"orient": "left", "values": [3e-6,4e-6,5e-6,6e-6,7e-6,8e-6,9e-6,1e-5,2e-5,3e-5,4e-5,5e-5,6e-5,7e-5,8e-5,9e-5,1e-4,2e-4,3e-4,4e-4,5e-4,6e-4,7e-4,8e-4,9e-4,0.001,0.002,0.003,0.004,0.005,0.006,0.007,0.008,0.009,0.01,0.02,0.03,0.04,0.05,0.06,0.07,0.08,0.09,0.1,0.2],
      "labels": false, "grid": false, "title": null, "tickSize": -4.5}}
 }},
{"data": {"name": "red"}, "mark": {"type": "line", "opacity": 0},
 "encoding": {
  "x": {"field": "x", "type": "quantitative",
    "axis": {"orient": "top", "values": [-100,-50,0,50,100,150,200,250,300,350,400], "labels": false, "grid": false, "title": null, "tickSize": -9}},
  "y": {"field": "y", "type": "quantitative",
    "axis": {"orient": "right", "values": [1e-5, 1e-4, 0.001, 0.01, 0.1], "labels": false, "grid": false, "title": null, "tickSize": -9}}
 }},
{"data": {"name": "stats"}, "mark": {"type": "point", "opacity": 0},
 "encoding": {"shape": {"field": "t", "type": "nominal", "sort": null,
   "legend": {"orient": "none", "legendX": 376, "legendY": -41, "title": "deltaSETplMET",
     "titleFontSize": 12, "titleFontWeight": "bold", "titleAnchor": "middle", "titlePadding": 4,
     "fillColor": "#ffffff", "strokeColor": "#000000", "padding": 3,
     "symbolSize": 0, "symbolStrokeWidth": 0, "labelOffset": -11, "clipHeight": 15.5, "rowPadding": 0,
     "labelFontSize": 12, "labelFontWeight": "bold"}}}},
{"data": {"name": "ttl"}, "mark": {"type": "point", "opacity": 0},
 "encoding": {"fill": {"field": "t", "type": "nominal",
   "legend": {"orient": "none", "legendX": -53, "legendY": -38, "title": null,
     "fillColor": "#ffffff", "strokeColor": "#000000", "padding": 2,
     "symbolSize": 0, "symbolStrokeWidth": 0, "labelOffset": 2, "clipHeight": 17, "rowPadding": 0,
     "labelFontSize": 13, "labelFontWeight": "bold"}}}}
],
"resolve": {"axis": {"x": "independent", "y": "independent"}}
}
